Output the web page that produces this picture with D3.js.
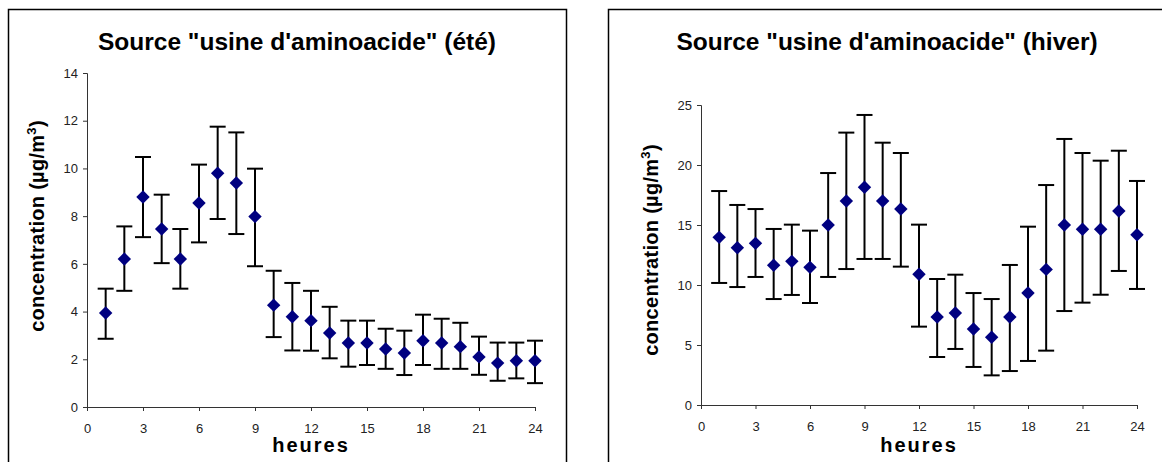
<!DOCTYPE html>
<html>
<head>
<meta charset="utf-8">
<script src="https://cdn.jsdelivr.net/npm/d3@7"></script>
<style>
  body { margin: 0; background: #fff; }
  svg { display: block; font-family: "Liberation Sans", Arial, sans-serif; }
</style>
</head>
<body>
<svg id="chart" width="1162" height="462"></svg>
<script>
// heures 1..24
var hours = d3.range(1, 25);

// été
var eteMean = [3.94, 6.2, 8.8, 7.46, 6.2, 8.55, 9.8, 9.39, 7.98, 4.27, 3.78, 3.62,
               3.1, 2.68, 2.68, 2.43, 2.26, 2.78, 2.68, 2.53, 2.1, 1.84, 1.94, 1.94];
var eteHigh = [4.96, 7.57, 10.48, 8.9, 7.46, 10.16, 11.75, 11.51, 9.99, 5.71, 5.2, 4.87,
               4.2, 3.62, 3.62, 3.28, 3.2, 3.87, 3.7, 3.53, 2.95, 2.7, 2.7, 2.78];
var eteLow  = [2.86, 4.87, 7.12, 6.03, 4.96, 6.9, 7.88, 7.25, 5.9, 2.93, 2.37, 2.36,
               2.04, 1.69, 1.76, 1.6, 1.34, 1.76, 1.6, 1.6, 1.35, 1.1, 1.2, 1.0];

// hiver
var hiverMean = [13.97, 13.1, 13.47, 11.64, 11.97, 11.47, 15.0, 17.0, 18.14, 17.0, 16.33, 10.89,
                 7.33, 7.67, 6.33, 5.64, 7.33, 9.33, 11.3, 15.0, 14.64, 14.64, 16.17, 14.19];
var hiverHigh = [17.83, 16.67, 16.33, 14.67, 15.03, 14.53, 19.33, 22.7, 24.17, 21.86, 21.0, 15.03,
                 10.5, 10.86, 9.33, 8.83, 11.67, 14.86, 18.33, 22.17, 21.0, 20.36, 21.19, 18.67];
var hiverLow  = [10.17, 9.83, 10.67, 8.83, 9.17, 8.5, 10.67, 11.33, 12.17, 12.17, 11.53, 6.53,
                 4.0, 4.67, 3.17, 2.47, 2.83, 3.67, 4.53, 7.83, 8.53, 9.19, 11.17, 9.67];

var xTicks = [0, 3, 6, 9, 12, 15, 18, 21, 24];
var eteTicks = [0, 2, 4, 6, 8, 10, 12, 14];
var hiverTicks = [0, 5, 10, 15, 20, 25];

var svg = d3.select("#chart");

function drawPanel(opt) {
  var g = svg.append("g");

  // cadre
  g.append("rect")
    .attr("x", opt.frame[0] + 0.5).attr("y", opt.frame[1] + 0.5)
    .attr("width", opt.frame[2]).attr("height", opt.frame[3])
    .attr("fill", "#fff").attr("stroke", "#000").attr("stroke-width", 1.5);

  var x = d3.scaleLinear().domain([0, 24]).range([opt.left, opt.right]);
  var y = d3.scaleLinear().domain([0, opt.ymax]).range([opt.bottom, opt.top]);

  var xAxis = g.append("g")
    .attr("transform", "translate(0," + opt.bottom + ")")
    .call(d3.axisBottom(x).tickValues(xTicks).tickSize(4).tickPadding(13));
  var yAxis = g.append("g")
    .attr("transform", "translate(" + opt.left + ",0)")
    .call(d3.axisLeft(y).tickValues(opt.yTicks).tickSize(4).tickPadding(5));

  [xAxis, yAxis].forEach(function (a) {
    a.select(".domain").attr("stroke", "#333");
    a.selectAll(".tick line").attr("stroke", "#333");
    a.selectAll(".tick text").attr("fill", "#222").style("font-size", "13px");
  });

  var rows = hours.map(function (h, i) {
    return { h: h, m: opt.mean[i], lo: opt.low[i], hi: opt.high[i] };
  });

  var bars = g.append("g").attr("stroke", "#000").attr("stroke-width", 2);
  bars.selectAll("line.v").data(rows).enter().append("line")
    .attr("x1", function (d) { return x(d.h); }).attr("x2", function (d) { return x(d.h); })
    .attr("y1", function (d) { return y(d.lo); }).attr("y2", function (d) { return y(d.hi); });
  bars.selectAll("line.t").data(rows).enter().append("line")
    .attr("x1", function (d) { return x(d.h) - 8; }).attr("x2", function (d) { return x(d.h) + 8; })
    .attr("y1", function (d) { return y(d.hi); }).attr("y2", function (d) { return y(d.hi); });
  bars.selectAll("line.b").data(rows).enter().append("line")
    .attr("x1", function (d) { return x(d.h) - 8; }).attr("x2", function (d) { return x(d.h) + 8; })
    .attr("y1", function (d) { return y(d.lo); }).attr("y2", function (d) { return y(d.lo); });

  var diamond = d3.symbol().type(d3.symbolDiamond2).size(115);
  g.append("g").selectAll("path").data(rows).enter().append("path")
    .attr("d", diamond)
    .attr("transform", function (d) { return "translate(" + x(d.h) + "," + y(d.m) + ")"; })
    .attr("fill", "#000080");

  g.append("text")
    .attr("x", opt.titleX).attr("y", 50)
    .attr("text-anchor", "middle")
    .style("font-size", "24.5px").style("font-weight", "bold")
    .text(opt.title);

  g.append("text")
    .attr("x", (opt.left + opt.right) / 2).attr("y", 452)
    .attr("text-anchor", "middle")
    .style("font-size", "20px").style("font-weight", "bold").style("letter-spacing", "2px")
    .text("heures");

  var yl = g.append("text")
    .attr("transform", "translate(" + opt.ylabX + "," + opt.ylabY + ") rotate(-90)")
    .attr("text-anchor", "middle")
    .style("font-size", "20px").style("font-weight", "bold").style("letter-spacing", "0.3px");
  yl.append("tspan").text("concentration (µg/m");
  yl.append("tspan").attr("dy", -8).style("font-size", "13px").text("3");
  yl.append("tspan").attr("dy", 8).text(")");
}

drawPanel({
  frame: [8, 9, 558, 470], left: 87, right: 535, top: 73, bottom: 407, ymax: 14,
  yTicks: eteTicks, mean: eteMean, low: eteLow, high: eteHigh,
  title: "Source \"usine d'aminoacide\" (été)", titleX: 297, ylabX: 44, ylabY: 226
});

drawPanel({
  frame: [608, 9, 570, 470], left: 701, right: 1137, top: 105, bottom: 405, ymax: 25,
  yTicks: hiverTicks, mean: hiverMean, low: hiverLow, high: hiverHigh,
  title: "Source \"usine d'aminoacide\" (hiver)", titleX: 887, ylabX: 658, ylabY: 250
});
</script>
</body>
</html>
